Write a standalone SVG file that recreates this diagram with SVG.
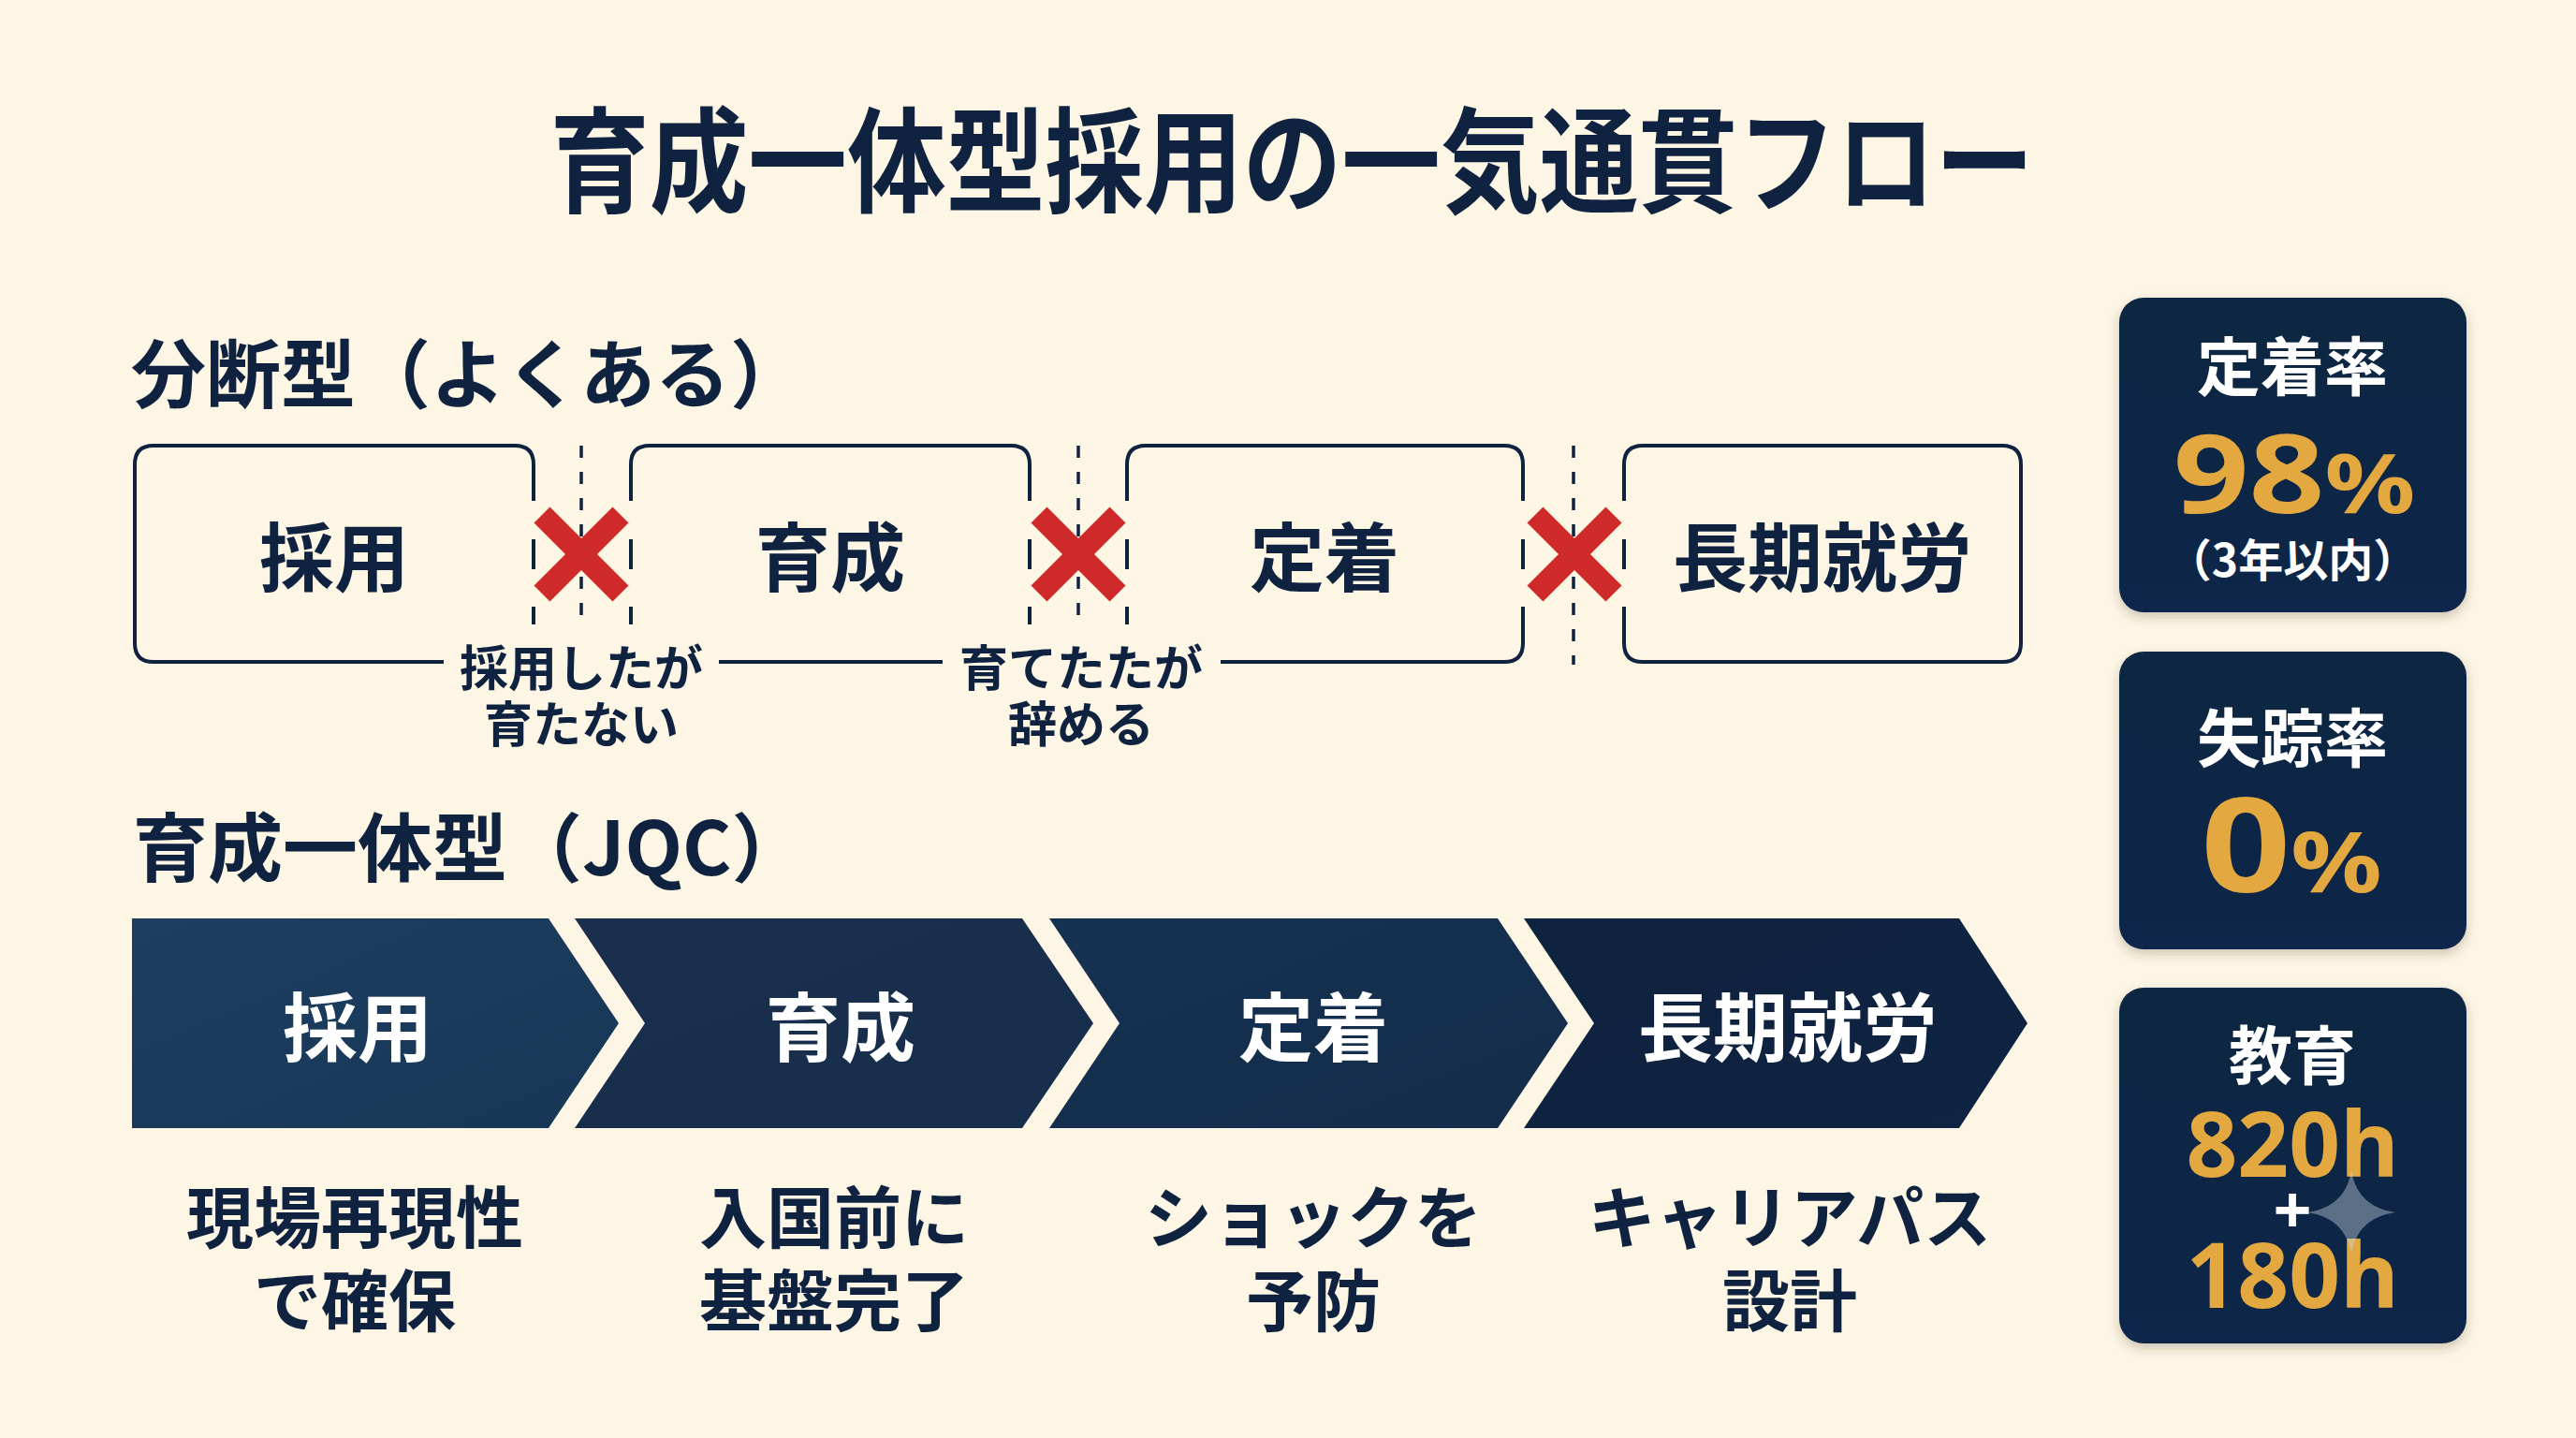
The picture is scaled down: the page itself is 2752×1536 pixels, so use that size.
<svg xmlns="http://www.w3.org/2000/svg" width="2752" height="1536" viewBox="0 0 2752 1536">
<defs>
<style>
.jp{font-family:"Noto Sans CJK JP","Noto Sans",sans-serif;font-weight:700}
.num{font-family:"Noto Sans","Noto Sans CJK JP",sans-serif;font-weight:700}
.ink{fill:#0f2240}
.wt{fill:#ffffff}
.gold{fill:#e3a840}
.edge{fill:none;stroke:#0f2240;stroke-width:4;stroke-linecap:butt}
.dash{fill:none;stroke:#0f2240;stroke-width:3.5;stroke-dasharray:13 15}
.xm{stroke:#cf2a2a;stroke-width:24;stroke-linecap:butt}
.panel{fill:url(#gPanel);filter:url(#sh)}
</style>
<linearGradient id="g1" x1="0" y1="0" x2="1" y2="1"><stop offset="0" stop-color="#1d3e60"/><stop offset="1" stop-color="#183757"/></linearGradient>
<linearGradient id="g2" x1="0" y1="0" x2="1" y2="1"><stop offset="0" stop-color="#192f4c"/><stop offset="1" stop-color="#172e4c"/></linearGradient>
<linearGradient id="g3" x1="0" y1="0" x2="1" y2="1"><stop offset="0" stop-color="#163252"/><stop offset="1" stop-color="#132c4a"/></linearGradient>
<linearGradient id="g4" x1="0" y1="0" x2="1" y2="1"><stop offset="0" stop-color="#0f223e"/><stop offset="1" stop-color="#0e2442"/></linearGradient>
<linearGradient id="gPanel" x1="0" y1="0" x2="0" y2="1"><stop offset="0" stop-color="#0f2542"/><stop offset="1" stop-color="#0f2848"/></linearGradient>
<filter id="sh" x="-10%" y="-10%" width="120%" height="125%"><feDropShadow dx="0" dy="5" stdDeviation="6" flood-color="#3a2e1a" flood-opacity="0.25"/></filter>
</defs>
<rect width="2752" height="1536" fill="#fdf6e5"/>

<text id="title" class="jp ink" x="588" y="217" font-size="122" font-weight="900" textLength="1585" lengthAdjust="spacingAndGlyphs">育成一体型採用の一気通貫フロー</text>

<text id="sec1" class="jp ink" x="140" y="429" font-size="80">分断型（よくある）</text>
<text id="sec2" class="jp ink" x="142" y="935" font-size="80">育成一体型（JQC）</text>

<g id="connectors">
  <line class="dash" x1="621" y1="476" x2="621" y2="667"/>
  <line class="dash" x1="1152" y1="476" x2="1152" y2="667"/>
  <line class="dash" x1="1681" y1="476" x2="1681" y2="710"/>
  <path class="edge" d="M474,707 H164 M768,707 H1007 M1304,707 H1607 Q1627,707 1627,687 V648"/>
  <g id="x1"><line class="xm" x1="579" y1="550" x2="663" y2="634"/><line class="xm" x1="663" y1="550" x2="579" y2="634"/></g>
  <g id="x2"><line class="xm" x1="1110" y1="550" x2="1194" y2="634"/><line class="xm" x1="1194" y1="550" x2="1110" y2="634"/></g>
  <g id="x3"><line class="xm" x1="1640" y1="550" x2="1724" y2="634"/><line class="xm" x1="1724" y1="550" x2="1640" y2="634"/></g>
  <text class="jp ink" font-size="52" text-anchor="middle"><tspan x="621" y="733">採用したが</tspan><tspan x="621" y="793">育たない</tspan></text>
  <text class="jp ink" font-size="52" text-anchor="middle"><tspan x="1155" y="733">育てたたが</tspan><tspan x="1155" y="793">辞める</tspan></text>
</g>

<g id="box-saiyo">
  <path class="edge" d="M570,535 V496 Q570,476 550,476 H164 Q144,476 144,496 V687 Q144,707 164,707 M570,576 V608 M570,648 V667"/>
  <text class="jp ink" x="357" y="625" font-size="80" text-anchor="middle">採用</text>
</g>
<g id="box-ikusei">
  <path class="edge" d="M674,667 V648 M674,608 V576 M674,535 V496 Q674,476 694,476 H1080 Q1100,476 1100,496 V535 M1100,576 V608 M1100,648 V667"/>
  <text class="jp ink" x="887" y="625" font-size="80" text-anchor="middle">育成</text>
</g>
<g id="box-teichaku">
  <path class="edge" d="M1204,667 V648 M1204,608 V576 M1204,535 V496 Q1204,476 1224,476 H1607 Q1627,476 1627,496 V535 M1627,576 V608"/>
  <text class="jp ink" x="1415" y="625" font-size="80" text-anchor="middle">定着</text>
</g>
<g id="box-choki">
  <path class="edge" d="M1735,535 V496 Q1735,476 1755,476 H2139 Q2159,476 2159,496 V687 Q2159,707 2139,707 H1755 Q1735,707 1735,687 V648 M1735,576 V608"/>
  <text class="jp ink" x="1947" y="625" font-size="80" text-anchor="middle">長期就労</text>
</g>

<g id="chev-saiyo">
  <path fill="url(#g1)" d="M141,981 H586 L661,1093 L586,1205 H141 Z"/>
  <text class="jp wt" x="382" y="1127" font-size="80" text-anchor="middle">採用</text>
  <text class="jp ink" font-size="72" text-anchor="middle"><tspan x="379" y="1327">現場再現性</tspan><tspan x="379" y="1416">で確保</tspan></text>
</g>
<g id="chev-ikusei">
  <path fill="url(#g2)" d="M614,981 H1092 L1168,1093 L1092,1205 H614 L689,1093 Z"/>
  <text class="jp wt" x="898" y="1127" font-size="80" text-anchor="middle">育成</text>
  <text class="jp ink" font-size="72" text-anchor="middle"><tspan x="891" y="1327">入国前に</tspan><tspan x="891" y="1416">基盤完了</tspan></text>
</g>
<g id="chev-teichaku">
  <path fill="url(#g3)" d="M1121,981 H1600 L1675,1093 L1600,1205 H1121 L1196,1093 Z"/>
  <text class="jp wt" x="1403" y="1127" font-size="80" text-anchor="middle">定着</text>
  <text class="jp ink" font-size="72" text-anchor="middle"><tspan x="1403" y="1327">ショックを</tspan><tspan x="1403" y="1416">予防</tspan></text>
</g>
<g id="chev-choki">
  <path fill="url(#g4)" d="M1628,981 H2093 L2166,1093 L2093,1205 H1628 L1703,1093 Z"/>
  <text class="jp wt" x="1910" y="1127" font-size="80" text-anchor="middle">長期就労</text>
  <text class="jp ink" font-size="72" text-anchor="middle"><tspan x="1912" y="1327">キャリアパス</tspan><tspan x="1912" y="1416">設計</tspan></text>
</g>

<g id="panel-teichakuritsu">
  <rect class="panel" x="2264" y="318" width="371" height="336" rx="26"/>
  <text class="jp wt" x="2449" y="417" font-size="68" text-anchor="middle">定着率</text>
  <text class="num gold" transform="translate(2451,548) scale(1.22,1)" text-anchor="middle" font-size="116">98<tspan font-size="88">%</tspan></text>
  <text class="jp wt" x="2449" y="616" font-size="48" text-anchor="middle">（3年以内）</text>
</g>
<g id="panel-shissou">
  <rect class="panel" x="2264" y="696" width="371" height="318" rx="26"/>
  <text class="jp wt" x="2449" y="814" font-size="68" text-anchor="middle">失踪率</text>
  <text class="num gold" transform="translate(2448,953) scale(1.2,1)" text-anchor="middle" font-size="140">0<tspan font-size="90">%</tspan></text>
</g>
<g id="panel-kyouiku">
  <rect class="panel" x="2264" y="1055" width="371" height="380" rx="26"/>
  <text class="jp wt" x="2449" y="1153" font-size="68" text-anchor="middle">教育</text>
  <text class="num gold" x="2449" y="1257" font-size="96" text-anchor="middle">820h</text>
  <text class="num wt" x="2449" y="1318" font-size="72" text-anchor="middle">+</text>
  <text class="num gold" x="2449" y="1397" font-size="96" text-anchor="middle">180h</text>
  <path fill="#c9d3df" fill-opacity="0.42" d="M2512,1250 Q2518,1289 2559,1295 Q2518,1301 2512,1340 Q2506,1301 2465,1295 Q2506,1289 2512,1250 Z"/>
</g>
</svg>
